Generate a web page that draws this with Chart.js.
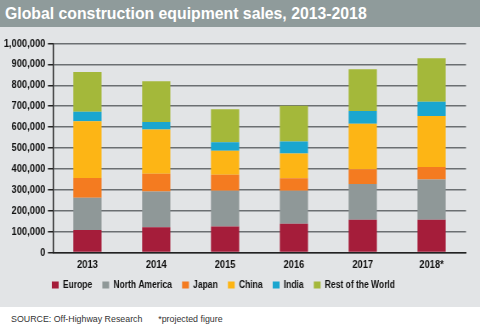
<!DOCTYPE html>
<html>
<head>
<meta charset="utf-8">
<script src="https://cdn.jsdelivr.net/npm/chart.js@4.4.0/dist/chart.umd.min.js"></script>
<style>
  body { margin: 0; width: 480px; height: 330px; background: #fff; overflow: hidden;
         font-family: 'Liberation Sans', Arial, sans-serif; }
  #title { height: 27px; background: #8f9b9b; color: #fff; font-weight: bold; font-size: 15.8px;
           line-height: 27px; padding-left: 5px; white-space: nowrap; }
  #panel { position: relative; width: 480px; height: 280px; background: #e2e4e6; }
  #c { width: 480px; height: 280px; }
  #foot { height: 23px; font-size: 9.5px; color: #333; line-height: 24px; white-space: nowrap;
          padding-left: 11px; transform: scaleX(0.93); transform-origin: 11px 0; }
  #foot span { margin-left: 17px; }
</style>
</head>
<body>
<div id="title">Global construction equipment sales, 2013-2018</div>
<div id="panel"><canvas id="c" width="565" height="280" style="width:480px;height:280px"></canvas></div>
<div id="foot">SOURCE: Off-Highway Research<span>*projected figure</span></div>
<script>
// data (units sold)
const years = ['2013', '2014', '2015', '2016', '2017', '2018*'];
const europe = [108000, 121000, 124000, 137000, 157000, 157000];
const northAmerica = [154000, 171000, 171000, 158000, 171000, 192000];
const japan = [95000, 85000, 77000, 60000, 70000, 60000];
const china = [271000, 211000, 115000, 119000, 218000, 244000];
const india = [46000, 37000, 41000, 57000, 61000, 68000];
const restOfWorld = [190000, 194000, 157000, 171000, 200000, 208000];
const yTicks = [0, 100000, 200000, 300000, 400000, 500000, 600000, 700000, 800000, 900000, 1000000];

// canvas is drawn wider and squeezed by css, that gives the narrow bold type of the original
const squeeze = 480 / 565;
const font = "'Liberation Sans', Arial, sans-serif";

function ds(label, data, color) {
    return { label: label, data: data, backgroundColor: color, borderWidth: 0,
             barPercentage: 0.41, categoryPercentage: 1 };
}

// move the legend so it starts under the y axis like in the original
const legendShift = {
    id: 'legendShift',
    afterLayout(chart) {
        const d = 49 - chart.legend.left;
        chart.legend.left += d;
        chart.legend.right += d;
    }
};

new Chart(document.getElementById('c'), {
    type: 'bar',
    data: {
        labels: years,
        datasets: [
            ds('Europe', europe, '#a51d3a'),
            ds('North America', northAmerica, '#8f9898'),
            ds('Japan', japan, '#f47b20'),
            ds('China', china, '#fdb515'),
            ds('India', india, '#1aa6cf'),
            ds('Rest of the World', restOfWorld, '#a4b83a')
        ]
    },
    plugins: [legendShift],
    options: {
        responsive: false,
        animation: false,
        devicePixelRatio: 1,
        layout: { padding: { top: 16.5, right: 16.5, left: 0, bottom: 7 } },
        plugins: {
            legend: {
                position: 'bottom',
                align: 'start',
                labels: {
                    boxWidth: 8, boxHeight: 7, padding: 12, color: '#111',
                    font: { family: font, size: 10, weight: 'bold' }
                }
            },
            tooltip: { enabled: false }
        },
        scales: {
            x: {
                stacked: true,
                afterFit: function(scale) { scale.height = 15.5; },
                grid: { display: false, drawTicks: false },
                border: { color: '#222', width: 1.5 },
                ticks: { color: '#111', padding: 6, font: { family: font, size: 11, weight: 'bold' } }
            },
            y: {
                stacked: true,
                min: 0,
                max: 1000000,
                afterFit: function(scale) { scale.width = 53 / squeeze; },
                afterBuildTicks: function(scale) { scale.ticks = yTicks.map(v => ({ value: v })); },
                grid: { color: '#6b6f72', lineWidth: 1.5, tickLength: 6, tickColor: '#222' },
                border: { color: '#222', width: 1.5 },
                ticks: {
                    color: '#111', padding: 3,
                    font: { family: font, size: 11, weight: 'bold' },
                    callback: v => v.toLocaleString('en-US')
                }
            }
        }
    }
});
</script>
</body>
</html>
